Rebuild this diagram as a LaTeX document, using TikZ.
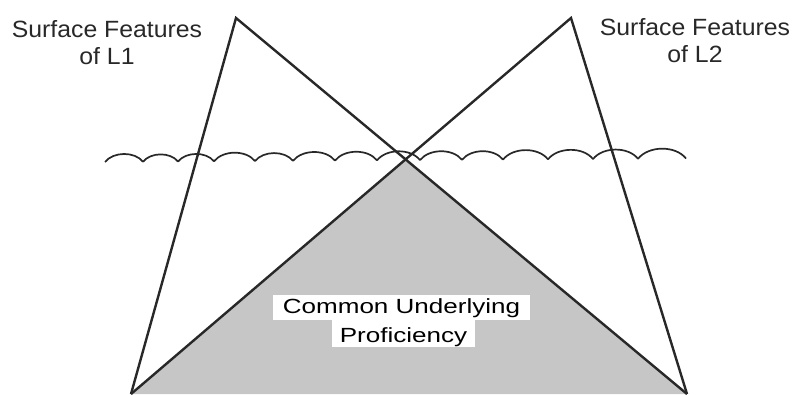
\documentclass[tikz,border=0pt]{standalone}
\usepackage{fontspec}
\newfontfamily\labfont[FakeStretch=1.055]{Liberation Sans}
\newfontfamily\cupfont[FakeStretch=1.27]{Liberation Sans}
\definecolor{ink}{RGB}{40,40,40}
\definecolor{cupgray}{RGB}{198,198,198}
\begin{document}
\begin{tikzpicture}[x=1pt,y=-1pt,
  edge/.style={draw=ink,line width=2.4pt,line join=miter},
  wave/.style={draw=ink,line width=1.7pt},
  sidelabel/.style={align=center,anchor=base,inner sep=0pt,text=ink,
    font=\labfont\fontsize{23.5}{27}\selectfont},
  cuptext/.style={anchor=base,inner sep=0pt,text=black,
    font=\cupfont\fontsize{20.5}{24}\selectfont},
  whitebox/.style={fill=white,draw=none}]
\useasboundingbox (0,0) rectangle (794,394);
\coordinate (A1) at (236,18);
\coordinate (A2) at (571,18);
\coordinate (BL) at (131,394);
\coordinate (BR) at (687,394);
\coordinate (X) at (intersection of A1--BR and A2--BL);
% shaded common region
\fill[cupgray] (X) -- (BL) -- (BR) -- cycle;
% triangles
\draw[edge] (BL) -- (A1) -- (BR);
\draw[edge] (BL) -- (A2) -- (BR);
% white label boxes
\fill[whitebox] (273,295) rectangle (530,320);
\fill[whitebox] (332,320) rectangle (475,347);
\node[cuptext] (cup1) at (401.5,313) {Common Underlying};
\node[cuptext] (cup2) at (403.5,342) {Proficiency};
% wavy surface line
\foreach \a/\b in {105/143,143/178,178/214,214/255,255/293,293/335,335/377,377/420,420/462,462/503,503/548,548/593,593/638,638/686}
  \draw[wave] (\a,{162-(\a-105)*0.006}) to[out=52,in=128,looseness=0.9] (\b,{162-(\b-105)*0.006});
% side labels
\node[sidelabel] (L1) at (107,64) {Surface Features\\of L1};
\node[sidelabel] (L2) at (695,62) {Surface Features\\of L2};
\end{tikzpicture}
\end{document}
